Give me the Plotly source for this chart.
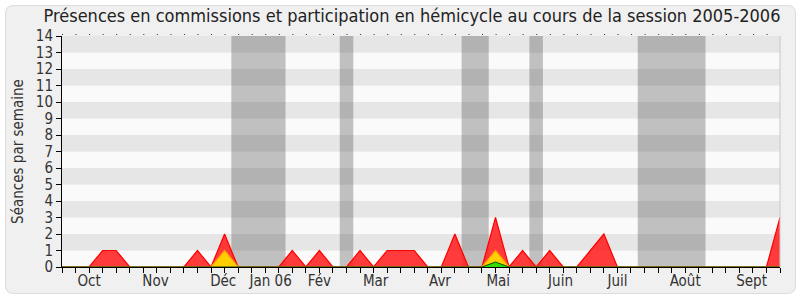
import plotly.graph_objects as go

weeks = list(range(54))
red = [0, 0, 0, 1, 1, 0, 0, 0, 0, 0, 1, 0, 2, 0, 0, 0, 0, 1, 0, 1,
       0, 0, 1, 0, 1, 1, 1, 0, 0, 2, 0, 0, 3, 0, 1, 0, 1, 0, 0, 1,
       2, 0, 0, 0, 0, 0, 0, 0, 0, 0, 0, 0, 0, 3]
yellow = [0] * 54
yellow[12] = 1
yellow[32] = 1
green = [0] * 54
green[32] = 0.3

month_pos = [2, 6.9, 11.9, 15.4, 19.0, 23.15, 27.9, 32.2, 36.8, 41.0, 46.0, 50.9]
month_labels = ["Oct", "Nov", "Déc", "Jan 06", "Fév", "Mar", "Avr", "Mai",
                "Juin", "Juil", "Août", "Sept"]
vacations = [(12.5, 16.5), (20.5, 21.5), (29.5, 31.5), (34.5, 35.5), (42.5, 47.5)]
y_ticks = list(range(15))

W, H = 800, 300
ML, MR, MT, MB = 62, 20, 36, 33
FONT = "DejaVu Sans Condensed, DejaVu Sans"

fig = go.Figure()
fig.add_trace(go.Scatter(x=weeks, y=red, mode="lines", fill="tozeroy",
                         line=dict(color="#FF0000", width=1.2),
                         fillcolor="rgba(255,30,30,0.87)", hoverinfo="skip"))
fig.add_trace(go.Scatter(x=weeks, y=yellow, mode="lines", fill="tozeroy",
                         line=dict(color="#FFA500", width=1.2),
                         fillcolor="rgba(255,215,0,0.95)", hoverinfo="skip"))
fig.add_trace(go.Scatter(x=weeks, y=green, mode="lines", fill="tozeroy",
                         line=dict(color="#005000", width=1),
                         fillcolor="rgba(40,220,0,0.95)", hoverinfo="skip"))

shapes = []
pw = W - ML - MR
ph = H - MT - MB
def px(x):
    return (x - ML) / pw
def py(y):
    return (H - MB - y) / ph
x0, x1, y0, y1, r = 5.5, 795.5, 5.5, 293.5, 8
path = (f"M {px(x0 + r)},{py(y0)} L {px(x1 - r)},{py(y0)} Q {px(x1)},{py(y0)} {px(x1)},{py(y0 + r)} "
        f"L {px(x1)},{py(y1 - r)} Q {px(x1)},{py(y1)} {px(x1 - r)},{py(y1)} "
        f"L {px(x0 + r)},{py(y1)} Q {px(x0)},{py(y1)} {px(x0)},{py(y1 - r)} "
        f"L {px(x0)},{py(y0 + r)} Q {px(x0)},{py(y0)} {px(x0 + r)},{py(y0)} Z")
shapes.append(dict(type="path", xref="paper", yref="paper", path=path,
                   fillcolor="#F0F0F0", line=dict(color="#DCDCDC", width=1), layer="below"))
for k in range(14):
    shapes.append(dict(type="rect", xref="paper", yref="y", x0=0, x1=1, y0=k, y1=k + 1,
                       fillcolor="#E6E6E6" if k % 2 else "#FAFAFA",
                       line=dict(width=0), layer="below"))
for a, b in vacations:
    shapes.append(dict(type="rect", xref="x", yref="paper", x0=a, x1=b, y0=0, y1=1,
                       fillcolor="rgba(60,60,60,0.3)", line=dict(width=0), layer="below"))
shapes.append(dict(type="line", xref="paper", yref="paper", x0=0, x1=1,
                   y0=1 + 1.5 / ph, y1=1 + 1.5 / ph,
                   line=dict(color="#333333", width=1, dash="1px,12.55px")))
shapes.append(dict(type="line", xref="paper", yref="paper", x0=1, x1=1, y0=0, y1=1,
                   line=dict(color="#C8C8C8", width=1)))

fig.update_layout(
    width=W, height=H,
    margin=dict(l=ML, r=MR, t=MT, b=MB, autoexpand=False),
    paper_bgcolor="white", plot_bgcolor="#FAFAFA",
    showlegend=False,
    font=dict(family=FONT, color="#333333", size=15),
    title=dict(text="Présences en commissions et participation en hémicycle au cours de la session 2005-2006",
               x=0.515, xanchor="center", y=1 - 16 / H, yanchor="middle",
               font=dict(size=18, color="#222222")),
    shapes=shapes,
    xaxis=dict(range=[0, 53], tickmode="array", tickvals=month_pos, ticktext=month_labels,
               ticks="", showgrid=False, zeroline=False, showline=True, linecolor="black",
               linewidth=1, tickfont=dict(size=15, color="#333333"), automargin=False,
               minor=dict(tickmode="linear", tick0=0, dtick=1, ticks="outside",
                          ticklen=5, tickcolor="black", showgrid=False)),
    yaxis=dict(range=[0, 14], tickmode="array", tickvals=y_ticks, ticks="outside",
               ticklen=5, tickcolor="black", showgrid=False, zeroline=False,
               showline=True, linecolor="black", linewidth=1, automargin=False,
               tickfont=dict(size=15, color="#333333"),
               title=dict(text="Séances par semaine", font=dict(size=15, color="#333333"),
                          standoff=8)),
)

fig.write_html("out.html")
